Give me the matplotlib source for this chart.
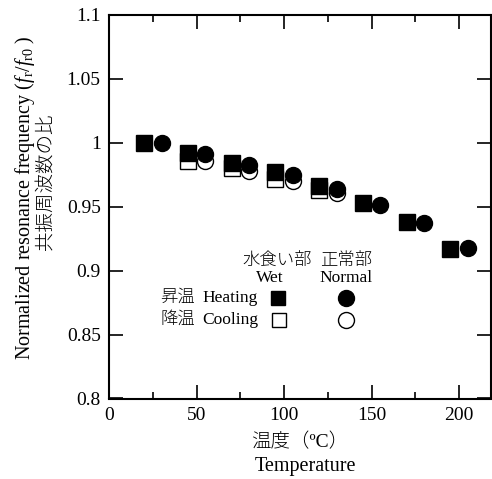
import matplotlib
matplotlib.use("Agg")
import matplotlib.pyplot as plt

plt.rcParams['font.family'] = ['Liberation Serif', 'Noto Sans CJK JP']
plt.rcParams['mathtext.fontset'] = 'custom'
plt.rcParams['mathtext.rm'] = 'Liberation Serif'
plt.rcParams['mathtext.it'] = 'Liberation Serif:italic'

# Heating (filled) - wet part (squares) and normal part (circles)
wet_heat_t = [20, 45, 70, 95, 120, 145, 170, 195]
wet_heat_r = [1.000, 0.992, 0.984, 0.977, 0.966, 0.953, 0.938, 0.917]
nor_heat_t = [30, 55, 80, 105, 130, 155, 180, 205]
nor_heat_r = [1.000, 0.991, 0.983, 0.975, 0.964, 0.951, 0.937, 0.918]

# Cooling (open)
wet_cool_t = [45, 70, 95, 120]
wet_cool_r = [0.986, 0.980, 0.972, 0.963]
nor_cool_t = [55, 80, 105, 130]
nor_cool_r = [0.986, 0.978, 0.970, 0.961]

fig = plt.figure(figsize=(4.92, 4.79), dpi=100)
ax = fig.add_axes([109 / 492, 1 - 398.5 / 479, 381.5 / 492, 383.5 / 479])

ms = 11.5
ax.plot(wet_cool_t, wet_cool_r, 's', ms=ms, mfc='white', mec='black', mew=1.0, zorder=2)
ax.plot(nor_cool_t, nor_cool_r, 'o', ms=ms, mfc='white', mec='black', mew=1.0, zorder=2)
ax.plot(wet_heat_t, wet_heat_r, 's', ms=ms, color='black', zorder=3)
ax.plot(nor_heat_t, nor_heat_r, 'o', ms=ms, color='black', zorder=3)

ax.set_xlim(0, 218)
ax.set_ylim(0.8, 1.1)
ax.set_xticks([0, 50, 100, 150, 200])
ax.set_xticks([25, 75, 125, 175], minor=True)
ax.set_yticks([0.8, 0.85, 0.9, 0.95, 1.0, 1.05, 1.1])
ax.set_yticklabels(['0.8', '0.85', '0.9', '0.95', '1', '1.05', '1.1'])
ax.tick_params(which='both', direction='in', top=True, right=True, labelsize=14, pad=6)
ax.tick_params(which='major', length=10, width=1.2)
ax.tick_params(which='minor', length=5, width=1.2)
for s in ax.spines.values():
    s.set_linewidth(1.5)

# axis labels
fig.text(300 / 492, 1 - 442 / 479, '温度（ºC）', fontsize=14, ha='center', va='center',
         fontweight='light')
fig.text(305 / 492, 1 - 467 / 479, 'Temperature', fontsize=14.5, ha='center', va='center')
fig.text(25 / 492, 1 - 198 / 479,
         r'Normalized resonance frequency ($f_{\mathrm{r}}/f_{\mathrm{r0}}$ )',
         fontsize=14.5, rotation=90, ha='center', va='center')
fig.text(47 / 492, 1 - 182 / 479, '共振周波数の比', fontsize=14, rotation=90,
         ha='center', va='center', fontweight='light')

# legend built by hand
tr = ax.transAxes
fs = 12.5
ax.text(0.440, 0.358, '水食い部', fontsize=fs, ha='center', va='center', transform=tr, fontweight='light')
ax.text(0.621, 0.358, '正常部', fontsize=fs, ha='center', va='center', transform=tr, fontweight='light')
ax.text(0.422, 0.314, 'Wet', fontsize=fs, ha='center', va='center', transform=tr)
ax.text(0.621, 0.314, 'Normal', fontsize=fs, ha='center', va='center', transform=tr)
ax.text(0.134, 0.262, '昇温', fontsize=fs, ha='left', va='center', transform=tr, fontweight='light')
ax.text(0.245, 0.262, 'Heating', fontsize=fs, ha='left', va='center', transform=tr)
ax.text(0.134, 0.205, '降温', fontsize=fs, ha='left', va='center', transform=tr, fontweight='light')
ax.text(0.245, 0.205, 'Cooling', fontsize=fs, ha='left', va='center', transform=tr)
lms = 10
ax.plot([0.444], [0.262], 's', ms=lms, color='black', transform=tr, clip_on=False)
ax.plot([0.621], [0.262], 'o', ms=lms + 1.5, color='black', transform=tr, clip_on=False)
ax.plot([0.446], [0.205], 's', ms=lms, mfc='white', mec='black', mew=1.0, transform=tr, clip_on=False)
ax.plot([0.621], [0.205], 'o', ms=lms + 1.5, mfc='white', mec='black', mew=1.0, transform=tr, clip_on=False)

fig.savefig('out.png', dpi=100)
